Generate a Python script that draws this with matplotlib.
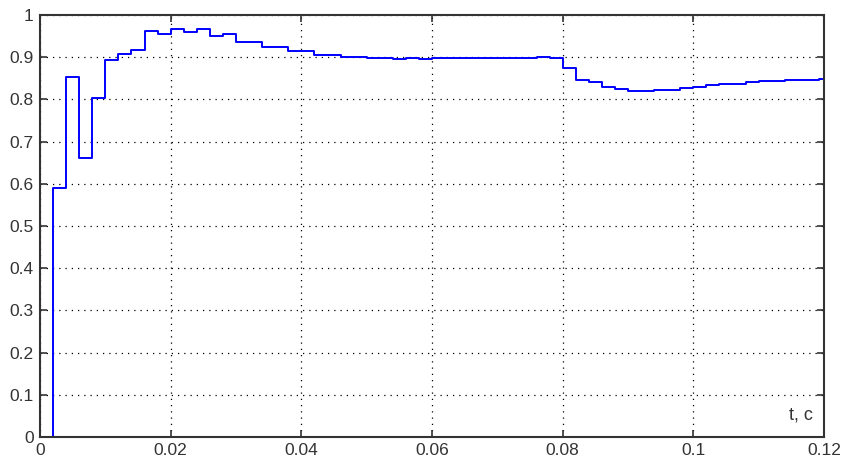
import matplotlib
matplotlib.use("Agg")
import matplotlib.pyplot as plt

# step times (s) and values held after each time
t_steps = [0.0, 0.002, 0.004, 0.006, 0.008, 0.010, 0.012, 0.014, 0.016, 0.018,
           0.020, 0.022, 0.024, 0.026, 0.028, 0.030, 0.034, 0.038, 0.042, 0.046,
           0.050, 0.054, 0.056, 0.058, 0.060, 0.076, 0.078, 0.080, 0.082, 0.084,
           0.086, 0.088, 0.090, 0.094, 0.098, 0.100, 0.102, 0.104, 0.108, 0.110,
           0.114, 0.1193, 0.120]
values = [0.0, 0.590, 0.853, 0.662, 0.803, 0.894, 0.908, 0.917, 0.963, 0.954,
          0.966, 0.959, 0.966, 0.950, 0.954, 0.937, 0.924, 0.915, 0.905, 0.901,
          0.899, 0.896, 0.899, 0.896, 0.899, 0.901, 0.899, 0.874, 0.846, 0.841,
          0.830, 0.824, 0.820, 0.823, 0.827, 0.830, 0.834, 0.837, 0.841, 0.843,
          0.846, 0.849, 0.849]

x_ticks = [0, 0.02, 0.04, 0.06, 0.08, 0.1, 0.12]
x_labels = ["0", "0.02", "0.04", "0.06", "0.08", "0.1", "0.12"]
y_ticks = [0, 0.1, 0.2, 0.3, 0.4, 0.5, 0.6, 0.7, 0.8, 0.9, 1.0]
y_labels = ["0", "0.1", "0.2", "0.3", "0.4", "0.5", "0.6", "0.7", "0.8", "0.9", "1"]

plt.rcParams['font.family'] = ['Liberation Sans', 'DejaVu Sans']

fig = plt.figure(figsize=(8.45, 4.58), dpi=100)
ax = fig.add_axes([40/845, 1 - 437/458, 784/845, 422/458])

ax.step(t_steps, values, where='post', color='#0000ff', linewidth=1.4)

ax.set_xlim(0, 0.12)
ax.set_ylim(0, 1)
ax.set_xticks(x_ticks)
ax.set_xticklabels(x_labels)
ax.set_yticks(y_ticks)
ax.set_yticklabels(y_labels)

ax.grid(True, color='black', linestyle=(0, (1, 4)), linewidth=0.9)
ax.tick_params(direction='in', length=5, width=1.2, top=True, right=True,
               labelsize=12.5, colors='#333333', pad=4.5)
for s in ax.spines.values():
    s.set_linewidth(1.5)
    s.set_color('#333333')

ax.text(0.986, 0.052, "t, c", transform=ax.transAxes, ha='right', va='center',
        fontsize=13, color='#333333')

fig.savefig("out.png", dpi=100)
